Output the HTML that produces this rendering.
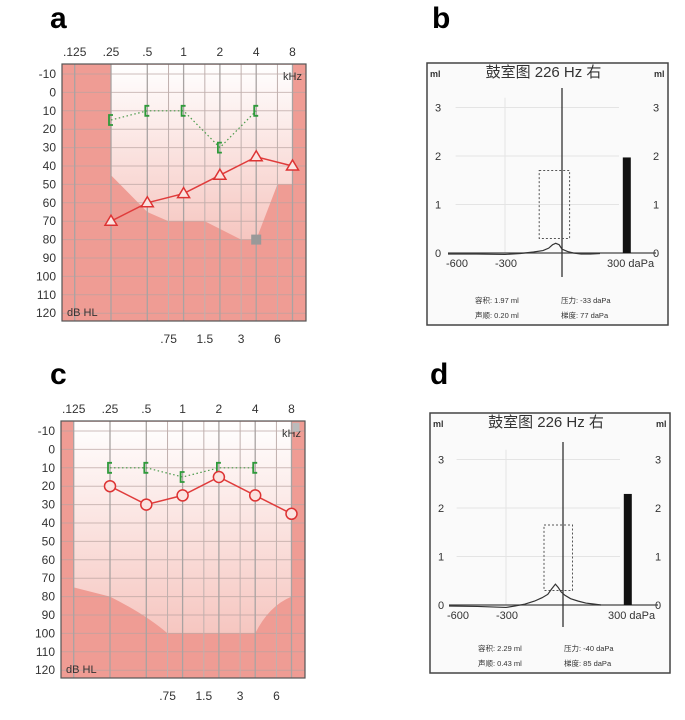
<!DOCTYPE html>
<html><head><meta charset="utf-8">
<style>
html,body{margin:0;padding:0;background:#fff;}
svg{display:block;font-family:"Liberation Sans","Noto Sans CJK SC",sans-serif;}
</style></head>
<body>
<svg id="fig" width="685" height="720" viewBox="0 0 685 720" xmlns="http://www.w3.org/2000/svg">
<defs>
<linearGradient id="lg" x1="0" y1="0" x2="0" y2="1">
<stop offset="0" stop-color="#ffffff"/><stop offset="1" stop-color="#f6c6c0"/>
</linearGradient>
</defs>
</svg>
<script>
// ---------- data ----------
const freqs = [0.25, 0.5, 1, 2, 4, 8];
const airA = [70, 60, 55, 45, 35, 40];
const boneFreqsA = [0.25, 0.5, 1, 2, 4];
const boneA = [15, 10, 10, 30, 10];
const airC = [20, 30, 25, 15, 25, 35];
const boneFreqsC = [0.25, 0.5, 1, 2, 4];
const boneC = [10, 10, 15, 10, 10];
const topTicks = [".125", ".25", ".5", "1", "2", "4", "8"];
const topTickFreqs = [0.125, 0.25, 0.5, 1, 2, 4, 8];
const botTicks = [".75", "1.5", "3", "6"];
const botTickFreqs = [0.75, 1.5, 3, 6];
const dbTicks = [-10, 0, 10, 20, 30, 40, 50, 60, 70, 80, 90, 100, 110, 120];
const tympPressB = [-600, -450, -300, -220, -150, -100, -70, -50, -33, -15, 0, 30, 60, 100, 150, 200];
const tympVolB = [-0.02, -0.02, -0.03, -0.01, 0.02, 0.05, 0.10, 0.17, 0.20, 0.17, 0.08, 0.03, 0.0, -0.02, -0.02, -0.01];
const tympPressD = [-600, -450, -300, -250, -200, -150, -110, -80, -60, -40, -25, -10, 10, 40, 80, 120, 160, 200];
const tympVolD = [-0.02, -0.03, -0.05, -0.02, 0.02, 0.08, 0.15, 0.22, 0.33, 0.43, 0.36, 0.27, 0.2, 0.13, 0.08, 0.04, 0.02, 0.0];
const ecvB = [1.97];
const ecvD = [2.29];
const mlTicks = [0, 1, 2, 3];

const svg = document.getElementById('fig');
const NS = 'http://www.w3.org/2000/svg';
function mk(tag, attrs, parent, txt){
  const e = document.createElementNS(NS, tag);
  for (const k in attrs) e.setAttribute(k, attrs[k]);
  if (txt !== undefined) e.textContent = txt;
  (parent || svg).appendChild(e);
  return e;
}

function audiogram(name, ox, oy, air, airShape, bFreqs, bone, shadeTop, extra){
  const g = mk('g', {});
  
  
  const X0 = 62 + ox, X1 = 306 + ox, Y0 = 64 + oy, Y1 = 321 + oy;
  const xf = f => 111 + ox + 36.3 * Math.log2(f / 0.25);
  const yd = d => 74 + oy + (d + 10) * 1.84;
  // dark background
  const bg = mk('rect', {x: X0, y: Y0, width: X1 - X0, height: Y1 - Y0, fill: '#ef9c94'}, g);
  
  
  // light region
  const lr = mk('path', {d: shadeTop(xf, yd), fill: 'url(#lg)'}, g);
  
  
  // grid
  for (const d of dbTicks) mk('line', {x1: X0, x2: X1, y1: yd(d), y2: yd(d), stroke: '#b9a3a0', 'stroke-width': 1, opacity: 0.7}, g);
  for (const f of topTickFreqs) mk('line', {x1: xf(f), x2: xf(f), y1: Y0, y2: Y1, stroke: '#a9a3a2', 'stroke-width': 1.3}, g);
  for (const f of botTickFreqs) mk('line', {x1: xf(f), x2: xf(f), y1: Y0, y2: Y1, stroke: '#c0b0ae', 'stroke-width': 1}, g);
  mk('rect', {x: X0, y: Y0, width: X1 - X0, height: Y1 - Y0, fill: 'none', stroke: '#555', 'stroke-width': 1.2}, g);
  // labels
  topTicks.forEach((t, i) => {
    const e = mk('text', {x: xf(topTickFreqs[i]), y: Y0 - 8, 'font-size': 12, fill: '#333', 'text-anchor': 'middle'}, g, t);
    
    
  });
  botTicks.forEach((t, i) => {
    const e = mk('text', {x: xf(botTickFreqs[i]), y: Y1 + 22, 'font-size': 12, fill: '#333', 'text-anchor': 'middle'}, g, t);
    
    
  });
  dbTicks.forEach(d => {
    const e = mk('text', {x: X0 - 6, y: yd(d) + 4, 'font-size': 12, fill: '#333', 'text-anchor': 'end'}, g, String(d));
    
    
  });
  const k = mk('text', {x: X1 - 4, y: yd(-10) + 6, 'font-size': 11, fill: '#333', 'text-anchor': 'end'}, g, 'kHz');
   
  const u = mk('text', {x: X0 + 5, y: Y1 - 5, 'font-size': 11, fill: '#333'}, g, 'dB HL');
   
  if (extra) extra(g, xf, yd);
  // bone line
  const bp = bFreqs.map((f, i) => xf(f) + ',' + yd(bone[i])).join(' ');
  const bl = mk('polyline', {points: bp, fill: 'none', stroke: '#4a9a4a', 'stroke-width': 1.2, 'stroke-dasharray': '1.5,2.5'}, g);
   
  bFreqs.forEach((f, i) => {
    const x = xf(f), y = yd(bone[i]);
    const m = mk('path', {d: `M${x + 2},${y - 5} L${x - 2},${y - 5} L${x - 2},${y + 5} L${x + 2},${y + 5}`, fill: 'none', stroke: '#2e9a3a', 'stroke-width': 1.8}, g);
     
  });
  // air line
  const ap = freqs.map((f, i) => xf(f) + ',' + yd(air[i])).join(' ');
  const al = mk('polyline', {points: ap, fill: 'none', stroke: '#e03c3c', 'stroke-width': 1.5}, g);
   
  freqs.forEach((f, i) => {
    const x = xf(f), y = yd(air[i]);
    let m;
    if (airShape === 'tri') m = mk('path', {d: `M${x},${y - 6} L${x + 6},${y + 4} L${x - 6},${y + 4} Z`, fill: '#fbe3e0', stroke: '#dd3333', 'stroke-width': 1.5}, g);
    else m = mk('circle', {cx: x, cy: y, r: 5.5, fill: '#fbe3e0', stroke: '#dd3333', 'stroke-width': 1.5}, g);
     
  });
}

// panel a
audiogram('audiogram-a', 0, 0, airA, 'tri', boneFreqsA, boneA, (xf, yd) =>
  `M${xf(0.25)},${yd(-15)} L${xf(8)},${yd(-15)} L${xf(8)},${yd(50)} L${xf(6)},${yd(50)} L${xf(4)},${yd(80)} L${xf(3)},${yd(80)} L${xf(1.5)},${yd(70)} L${xf(0.75)},${yd(70)} L${xf(0.5)},${yd(65)} L${xf(0.25)},${yd(45)} Z`,
  (g, xf, yd) => {
    const s = mk('rect', {x: xf(4) - 5, y: yd(80) - 5, width: 10, height: 10, fill: '#999'}, g);
     
  });
// panel c
audiogram('audiogram-c', -1, 357, airC, 'circ', boneFreqsC, boneC, (xf, yd) =>
  `M${xf(0.125)},${yd(-15)} L${xf(8)},${yd(-15)} L${xf(8)},${yd(80)} Q${xf(5.2)},${yd(85)} ${xf(4)},${yd(100)} L${xf(0.75)},${yd(100)} Q${xf(0.5)},${yd(90)} ${xf(0.25)},${yd(80)} L${xf(0.125)},${yd(75)} Z`,
  (g, xf, yd) => {
    mk('rect', {x: xf(8) + 1, y: yd(-15) + 1, width: 7, height: 9, fill: '#bbb'}, g);
  });

function tymp(name, ox, oy, X0, X1, Y0, Y1, zeroY, cx, pr, vol, ecv, rect, vtop, vbot, txt){
  const g = mk('g', {});
  
  
  const px = p => cx + p * 0.19;
  const vy = v => zeroY - v * 48.5;
  mk('rect', {x: X0, y: Y0, width: X1 - X0, height: Y1 - Y0, fill: '#fafafa', stroke: '#444', 'stroke-width': 1.5}, g);
  for (const m of mlTicks.slice(1)) mk('line', {x1: px(-560), x2: px(300), y1: vy(m), y2: vy(m), stroke: '#e4e4e4', 'stroke-width': 1}, g);
  mk('line', {x1: px(-300), x2: px(-300), y1: vy(3.2), y2: vy(0), stroke: '#e4e4e4'}, g);
  const t = mk('text', {x: (X0 + X1) / 2 - 4, y: Y0 + 14, 'font-size': 15, fill: '#333', 'text-anchor': 'middle'}, g, '鼓室图 226 Hz 右');
   
  mk('text', {x: X0 + 3, y: Y0 + 14, 'font-size': 9, fill: '#333', 'font-weight': 'bold'}, g, 'ml');
  mk('text', {x: X1 - 14, y: Y0 + 14, 'font-size': 9, fill: '#333', 'font-weight': 'bold'}, g, 'ml');
  mlTicks.forEach(m => {
    mk('text', {x: X0 + 8, y: vy(m) + 4, 'font-size': 11, fill: '#333'}, g, String(m));
    mk('text', {x: X1 - 15, y: vy(m) + 4, 'font-size': 11, fill: '#333'}, g, String(m));
  });
  mk('text', {x: px(-600) - 2, y: zeroY + 14, 'font-size': 11, fill: '#333'}, g, '-600');
  mk('text', {x: px(-300) - 10, y: zeroY + 14, 'font-size': 11, fill: '#333'}, g, '-300');
  mk('text', {x: px(300) - 12, y: zeroY + 14, 'font-size': 11, fill: '#333'}, g, '300 daPa');
  mk('line', {x1: px(-600), x2: X1 - 12, y1: zeroY, y2: zeroY, stroke: '#444', 'stroke-width': 1.3}, g);
  mk('line', {x1: cx, x2: cx, y1: vtop, y2: vbot, stroke: '#333', 'stroke-width': 1.3}, g);
  const r = mk('rect', {x: px(rect[0]), y: vy(rect[3]), width: px(rect[1]) - px(rect[0]), height: vy(rect[2]) - vy(rect[3]), fill: 'none', stroke: '#555', 'stroke-dasharray': '2,2'}, g);
   
  const c = mk('polyline', {points: pr.map((p, i) => px(p) + ',' + vy(vol[i])).join(' '), fill: 'none', stroke: '#333', 'stroke-width': 1.2}, g);
   
  const b = mk('rect', {x: px(320), y: vy(ecv[0]), width: 8, height: zeroY - vy(ecv[0]), fill: '#111'}, g);
   
  mk('text', {x: X0 + 48, y: Y1 - 22, 'font-size': 7.5, fill: '#333'}, g, txt[0]);
  mk('text', {x: X0 + 134, y: Y1 - 22, 'font-size': 7.5, fill: '#333'}, g, txt[1]);
  mk('text', {x: X0 + 48, y: Y1 - 7, 'font-size': 7.5, fill: '#333'}, g, txt[2]);
  mk('text', {x: X0 + 134, y: Y1 - 7, 'font-size': 7.5, fill: '#333'}, g, txt[3]);
}
tymp('tympanogram-b', 0, 0, 427, 668, 63, 325, 253, 562, tympPressB, tympVolB, ecvB, [-120, 40, 0.3, 1.7], 88, 277,
  ['容积: 1.97 ml', '压力: -33 daPa', '声顺: 0.20 ml', '梯度: 77 daPa']);
tymp('tympanogram-d', 0, 0, 430, 670, 413, 673, 605, 563, tympPressD, tympVolD, ecvD, [-100, 50, 0.3, 1.65], 442, 627,
  ['容积: 2.29 ml', '压力: -40 daPa', '声顺: 0.43 ml', '梯度: 85 daPa']);

// panel letters
[['a', 50, 28], ['b', 432, 28], ['c', 50, 384], ['d', 430, 384]].forEach(l => {
  const e = mk('text', {x: l[1], y: l[2], 'font-size': 30, 'font-weight': 'bold', fill: '#000'}, svg, l[0]);
  
  
});
</script>
</body></html>
